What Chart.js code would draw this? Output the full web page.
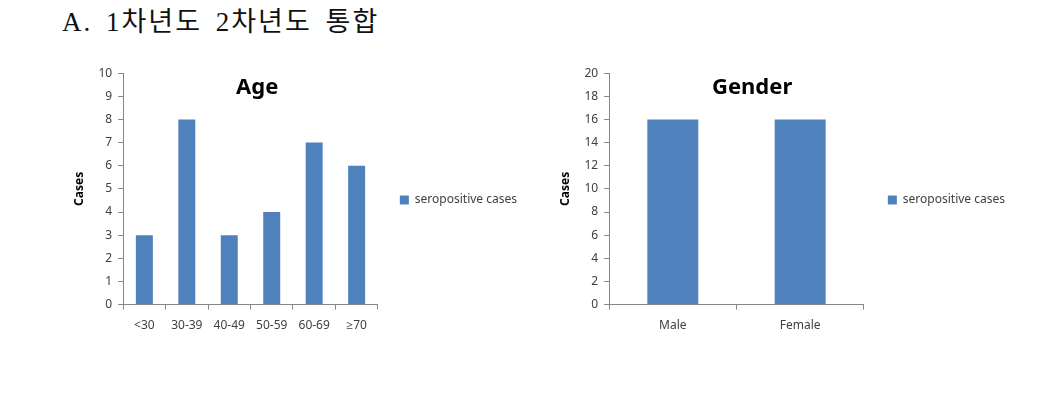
<!DOCTYPE html>
<html lang="ko">
<head>
    <meta charset="UTF-8">
    <title>1차년도 2차년도 통합</title>
    <script src="https://cdn.jsdelivr.net/npm/chart.js"></script>
    <style>
        body {
            margin: 0;
            background: #ffffff;
            width: 1057px;
            height: 404px;
            position: relative;
            overflow: hidden;
        }

        .heading {
            position: absolute;
            left: 62px;
            top: 6px;
            font-family: 'Liberation Serif', 'Noto Sans CJK KR', serif;
            font-size: 27px;
            line-height: 1.2;
            color: #111111;
            letter-spacing: 2px;
            word-spacing: 5px;
            white-space: nowrap;
        }

        .chart-box {
            position: absolute;
            top: 60px;
            height: 283px;
        }

        #age-box { left: 60px; width: 467px; }
        #gender-box { left: 546px; width: 469px; }
    </style>
</head>
<body>
    <div class="heading">A. 1차년도 2차년도 통합</div>
    <div class="chart-box" id="age-box"><canvas id="age-chart"></canvas></div>
    <div class="chart-box" id="gender-box"><canvas id="gender-chart"></canvas></div>
    <script>
        const seriesName = 'seropositive cases';

        const ageLabels = ['<30', '30-39', '40-49', '50-59', '60-69', '≥70'];
        const ageCases = [3, 8, 3, 4, 7, 6];
        const ageTicks = [0, 1, 2, 3, 4, 5, 6, 7, 8, 9, 10];

        const genderLabels = ['Male', 'Female'];
        const genderCases = [16, 16];
        const genderTicks = [0, 2, 4, 6, 8, 10, 12, 14, 16, 18, 20];

        const barColor = '#4F81BD';
        const axisColor = '#868686';
        const textColor = '#404040';
        const fontFamily = "'Noto Sans', 'Open Sans', Arial, sans-serif";

        Chart.defaults.font.family = fontFamily;
        Chart.defaults.font.size = 12;
        Chart.defaults.color = textColor;

        // title sits inside the plot, like the spreadsheet chart
        const innerTitle = {
            id: 'innerTitle',
            afterDraw(chart, args, opts) {
                const ctx = chart.ctx;
                ctx.save();
                ctx.font = "bold 22px " + fontFamily;
                ctx.fillStyle = '#000000';
                ctx.textAlign = 'center';
                ctx.textBaseline = 'middle';
                ctx.fillText(opts.text, chart.chartArea.left + opts.dx, chart.chartArea.top + opts.dy);
                ctx.restore();
            }
        };

        // nudge the legend box up a little so it lines up with the plot middle
        const legendShift = {
            id: 'legendShift',
            afterLayout(chart, args, opts) {
                if (!chart.legend) return;
                chart.legend.top += opts.dy;
                chart.legend.bottom += opts.dy;
            }
        };

        function makeChart(id, labels, values, ticks, title, titleDx, legendPad) {
            const ctx = document.getElementById(id).getContext('2d');
            return new Chart(ctx, {
                type: 'bar',
                data: {
                    labels: labels,
                    datasets: [{
                        label: seriesName,
                        data: values,
                        backgroundColor: barColor,
                        borderWidth: 0,
                        barPercentage: 1,
                        categoryPercentage: 0.4
                    }]
                },
                plugins: [innerTitle, legendShift],
                options: {
                    responsive: true,
                    maintainAspectRatio: false,
                    animation: false,
                    layout: { padding: { top: 6, left: 8, right: 0, bottom: 1 } },
                    plugins: {
                        innerTitle: { text: title, dx: titleDx, dy: 15 },
                        legendShift: { dy: -4 },
                        tooltip: { enabled: false },
                        legend: {
                            position: 'right',
                            maxWidth: 220,
                            labels: {
                                boxWidth: 9,
                                boxHeight: 9,
                                padding: legendPad,
                                color: textColor,
                                font: { size: 12 }
                            }
                        }
                    },
                    scales: {
                        x: {
                            grid: {
                                display: true,
                                drawOnChartArea: false,
                                drawTicks: true,
                                tickLength: 5,
                                color: axisColor
                            },
                            border: { display: true, color: axisColor },
                            ticks: { padding: 9, color: textColor, font: { size: 12 } }
                        },
                        y: {
                            min: ticks[0],
                            max: ticks[ticks.length - 1],
                            afterBuildTicks: axis => {
                                axis.ticks = ticks.map(v => ({ value: v }));
                            },
                            grid: {
                                display: true,
                                drawOnChartArea: false,
                                drawTicks: true,
                                tickLength: 5,
                                color: axisColor
                            },
                            border: { display: true, color: axisColor },
                            ticks: { padding: 6, color: textColor, font: { size: 12 } },
                            title: {
                                display: true,
                                text: 'Cases',
                                color: '#000000',
                                font: { size: 12, weight: 'bold' },
                                padding: { bottom: 6 }
                            }
                        }
                    }
                }
            });
        }

        makeChart('age-chart', ageLabels, ageCases, ageTicks, 'Age', 134, 22);
        makeChart('gender-chart', genderLabels, genderCases, genderTicks, 'Gender', 143, 24);
    </script>
</body>
</html>
